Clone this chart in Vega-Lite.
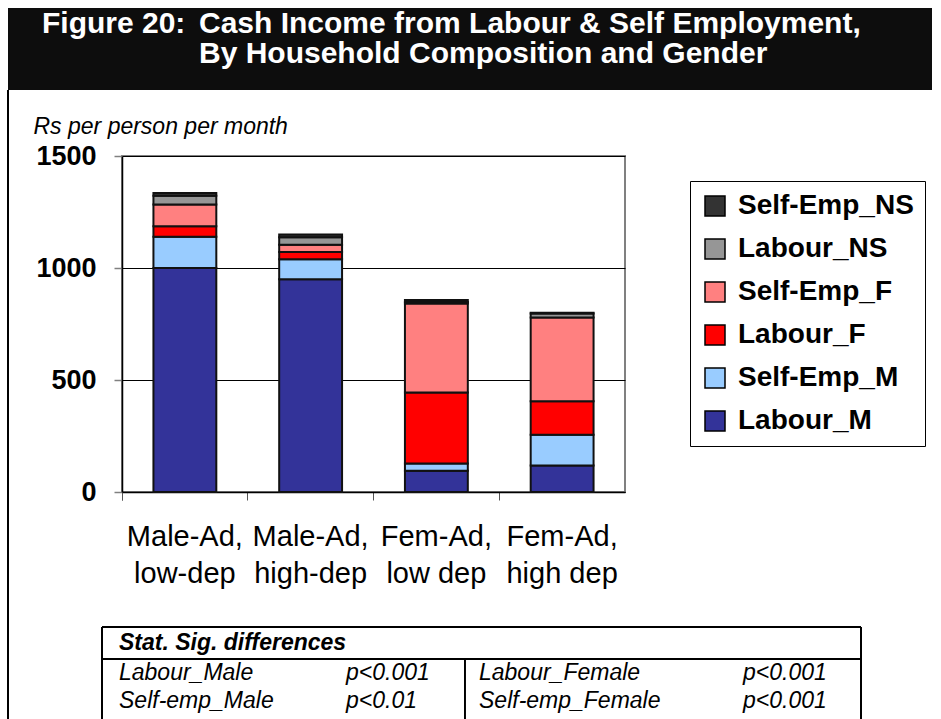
{
  "$schema": "https://vega.github.io/schema/vega-lite/v6.json",
  "padding": {"left": 7, "top": 8, "right": 0, "bottom": 0},
  "background": "#ffffff",
  "config": {"font": "Liberation Sans", "view": {"stroke": null}},
  "datasets": {
    "income": [
      {"group": "Male-Ad, low-dep", "source": "Labour_M", "value": 1000},
      {"group": "Male-Ad, low-dep", "source": "Self-Emp_M", "value": 140},
      {"group": "Male-Ad, low-dep", "source": "Labour_F", "value": 46},
      {"group": "Male-Ad, low-dep", "source": "Self-Emp_F", "value": 97},
      {"group": "Male-Ad, low-dep", "source": "Labour_NS", "value": 40},
      {"group": "Male-Ad, low-dep", "source": "Self-Emp_NS", "value": 12},
      {"group": "Male-Ad, high-dep", "source": "Labour_M", "value": 950},
      {"group": "Male-Ad, high-dep", "source": "Self-Emp_M", "value": 89},
      {"group": "Male-Ad, high-dep", "source": "Labour_F", "value": 32},
      {"group": "Male-Ad, high-dep", "source": "Self-Emp_F", "value": 33},
      {"group": "Male-Ad, high-dep", "source": "Labour_NS", "value": 33},
      {"group": "Male-Ad, high-dep", "source": "Self-Emp_NS", "value": 12},
      {"group": "Fem-Ad, low dep", "source": "Labour_M", "value": 95},
      {"group": "Fem-Ad, low dep", "source": "Self-Emp_M", "value": 32},
      {"group": "Fem-Ad, low dep", "source": "Labour_F", "value": 317},
      {"group": "Fem-Ad, low dep", "source": "Self-Emp_F", "value": 398},
      {"group": "Fem-Ad, low dep", "source": "Labour_NS", "value": 6},
      {"group": "Fem-Ad, low dep", "source": "Self-Emp_NS", "value": 9},
      {"group": "Fem-Ad, high dep", "source": "Labour_M", "value": 118},
      {"group": "Fem-Ad, high dep", "source": "Self-Emp_M", "value": 138},
      {"group": "Fem-Ad, high dep", "source": "Labour_F", "value": 149},
      {"group": "Fem-Ad, high dep", "source": "Self-Emp_F", "value": 374},
      {"group": "Fem-Ad, high dep", "source": "Labour_NS", "value": 18},
      {"group": "Fem-Ad, high dep", "source": "Self-Emp_NS", "value": 3}
    ],
    "series": [
      {"source": "Labour_M", "stackRank": 1},
      {"source": "Self-Emp_M", "stackRank": 2},
      {"source": "Labour_F", "stackRank": 3},
      {"source": "Self-Emp_F", "stackRank": 4},
      {"source": "Labour_NS", "stackRank": 5},
      {"source": "Self-Emp_NS", "stackRank": 6}
    ],
    "titleText": [
      {"col": "num", "line": "1", "text": "Figure 20:"},
      {"col": "body", "line": "1", "text": "Cash Income from Labour & Self Employment,"},
      {"col": "body", "line": "2", "text": "By Household Composition and Gender"}
    ],
    "sig": [
      {"side": "head", "kind": "label", "row": "0", "text": "Stat. Sig. differences"},
      {"side": "left", "kind": "label", "row": "1", "text": "Labour_Male"},
      {"side": "left", "kind": "p", "row": "1", "text": "p<0.001"},
      {"side": "left", "kind": "label", "row": "2", "text": "Self-emp_Male"},
      {"side": "left", "kind": "p", "row": "2", "text": "p<0.01"},
      {"side": "right", "kind": "label", "row": "1", "text": "Labour_Female"},
      {"side": "right", "kind": "p", "row": "1", "text": "p<0.001"},
      {"side": "right", "kind": "label", "row": "2", "text": "Self-emp_Female"},
      {"side": "right", "kind": "p", "row": "2", "text": "p<0.001"}
    ],
    "one": [{}],
    "none": []
  },
  "concat": [
    {"width": 94, "height": 82, "view": {"fill": "#0d0d0d", "stroke": null}, "data": {"name": "none"}, "mark": "point"},
    {"width": 20, "height": 82, "view": {"fill": "#0d0d0d", "stroke": null}, "data": {"name": "none"}, "mark": "point"},
    {
      "width": 810,
      "height": 82,
      "view": {"fill": "#0d0d0d", "stroke": null},
      "data": {"name": "titleText"},
      "mark": {"type": "text", "align": "left", "baseline": "alphabetic", "color": "#ffffff", "fontSize": 30, "fontWeight": "bold"},
      "encoding": {
        "x": {"field": "col", "type": "nominal", "scale": {"type": "point", "domain": ["num", "body"], "range": [-80, 77], "padding": 0}, "axis": null},
        "y": {"field": "line", "type": "nominal", "scale": {"type": "point", "domain": ["1", "2"], "range": [25, 55], "padding": 0}, "axis": null},
        "text": {"field": "text", "type": "nominal"}
      }
    },
    {
      "width": 94, "height": 66, "data": {"name": "one"},
      "mark": {"type": "rule", "color": "#000000", "strokeWidth": 2},
      "encoding": {"x": {"datum": 0, "type": "quantitative", "scale": {"domain": [0, 1]}, "axis": null}}
    },
    {"width": 20, "height": 66, "data": {"name": "none"}, "mark": "point"},
    {"width": 1, "height": 66, "data": {"name": "none"}, "mark": "point"},
    {
      "width": 94, "height": 336, "data": {"name": "one"},
      "mark": {"type": "rule", "color": "#000000", "strokeWidth": 2},
      "encoding": {"x": {"datum": 0, "type": "quantitative", "scale": {"domain": [0, 1]}, "axis": null}}
    },
    {"width": 20, "height": 336, "data": {"name": "none"}, "mark": "point"},
    {
      "width": 503,
      "height": 336,
      "view": {"stroke": "#808080", "strokeWidth": 2},
      "data": {"name": "income"},
      "transform": [
        {"lookup": "source", "from": {"data": {"name": "series"}, "key": "source", "fields": ["stackRank"]}}
      ],
      "mark": {"type": "bar", "stroke": "#111111", "strokeWidth": 2, "width": {"band": 0.5}},
      "encoding": {
        "x": {
          "field": "group", "type": "nominal",
          "sort": ["Male-Ad, low-dep", "Male-Ad, high-dep", "Fem-Ad, low dep", "Fem-Ad, high dep"],
          "scale": {"paddingInner": 0, "paddingOuter": 0},
          "axis": {
            "title": null, "labelAngle": 0, "bandPosition": 0, "tickExtra": true,
            "tickSize": 8, "tickColor": "#555555", "tickWidth": 1,
            "domainColor": "#000000", "domainWidth": 1.5,
            "labelFontSize": 29, "labelColor": "#000000", "labelPadding": 22, "labelLineHeight": 37,
            "labelExpr": "[slice(datum.label, 0, indexof(datum.label, ',') + 1), slice(datum.label, indexof(datum.label, ',') + 2)]"
          }
        },
        "y": {
          "field": "value", "type": "quantitative", "stack": "zero",
          "scale": {"domain": [0, 1500], "nice": false},
          "axis": {
            "values": [0, 500, 1000, 1500], "format": "d",
            "title": "Rs per person per month", "titleAngle": 0, "titleAlign": "left", "titleBaseline": "alphabetic",
            "titleX": -89, "titleY": -23, "titleFontSize": 23, "titleFontStyle": "italic", "titleFontWeight": "normal", "titleColor": "#000000",
            "labelFontSize": 27, "labelFontWeight": "bold", "labelColor": "#000000", "labelPadding": 18,
            "tickSize": 8, "tickColor": "#808080", "tickWidth": 1.5,
            "grid": true, "gridColor": "#000000", "gridWidth": 1,
            "domainColor": "#000000", "domainWidth": 1.5
          }
        },
        "order": {"field": "stackRank", "type": "quantitative", "sort": "ascending"},
        "color": {
          "field": "source", "type": "nominal",
          "scale": {
            "domain": ["Labour_M", "Self-Emp_M", "Labour_F", "Self-Emp_F", "Labour_NS", "Self-Emp_NS"],
            "range": ["#333399", "#99CCFF", "#FF0000", "#FF8080", "#969696", "#333333"]
          },
          "legend": {
            "orient": "none", "legendX": 682, "legendY": 173,
            "values": ["Self-Emp_NS", "Labour_NS", "Self-Emp_F", "Labour_F", "Self-Emp_M", "Labour_M"],
            "title": null, "symbolType": "square", "symbolSize": 400,
            "symbolStrokeColor": "#000000", "symbolStrokeWidth": 1.5, "symbolOpacity": 1,
            "labelFontSize": 28, "labelFontWeight": "bold", "labelColor": "#000000", "labelOffset": 9, "labelLimit": 400,
            "rowPadding": 15, "padding": 11, "strokeColor": "#000000", "fillColor": "#ffffff"
          }
        }
      }
    },
    {
      "width": 94, "height": 135, "data": {"name": "one"},
      "mark": {"type": "rule", "color": "#000000", "strokeWidth": 2},
      "encoding": {"x": {"datum": 0, "type": "quantitative", "scale": {"domain": [0, 1]}, "axis": null}}
    },
    {"width": 20, "height": 135, "data": {"name": "none"}, "mark": "point"},
    {"width": 1, "height": 135, "data": {"name": "none"}, "mark": "point"},
    {
      "width": 94, "height": 32, "data": {"name": "one"},
      "mark": {"type": "rule", "color": "#000000", "strokeWidth": 2},
      "encoding": {"x": {"datum": 0, "type": "quantitative", "scale": {"domain": [0, 1]}, "axis": null}}
    },
    {
      "width": 20, "height": 32, "data": {"name": "one"},
      "layer": [
        {"mark": {"type": "rule", "color": "#000000", "strokeWidth": 2}, "encoding": {"x": {"datum": 0, "type": "quantitative", "scale": {"domain": [0, 1]}, "axis": null}}},
        {"mark": {"type": "rule", "color": "#000000", "strokeWidth": 2}, "encoding": {"y": {"datum": 0, "type": "quantitative", "scale": {"domain": [0, 1]}, "axis": null}}},
        {"mark": {"type": "rule", "color": "#000000", "strokeWidth": 2}, "encoding": {"y": {"datum": 1, "type": "quantitative", "scale": {"domain": [0, 1]}, "axis": null}}}
      ]
    },
    {
      "width": 739, "height": 32,
      "layer": [
        {"data": {"name": "one"}, "mark": {"type": "rule", "color": "#000000", "strokeWidth": 2}, "encoding": {"x": {"datum": 1, "type": "quantitative", "scale": {"domain": [0, 1]}, "axis": null}}},
        {"data": {"name": "one"}, "mark": {"type": "rule", "color": "#000000", "strokeWidth": 2}, "encoding": {"y": {"datum": 0, "type": "quantitative", "scale": {"domain": [0, 1]}, "axis": null}}},
        {"data": {"name": "one"}, "mark": {"type": "rule", "color": "#000000", "strokeWidth": 2}, "encoding": {"y": {"datum": 1, "type": "quantitative", "scale": {"domain": [0, 1]}, "axis": null}}},
        {
          "data": {"name": "sig"},
          "transform": [{"filter": "datum.side === 'head'"}],
          "mark": {"type": "text", "align": "left", "baseline": "middle", "fontSize": 23, "fontStyle": "italic", "fontWeight": "bold", "color": "#000000"},
          "encoding": {
            "x": {"field": "kind", "type": "nominal", "scale": {"type": "point", "domain": ["label", "p"], "range": [-3, 224], "padding": 0}, "axis": null},
            "y": {"field": "row", "type": "nominal", "scale": {"type": "point", "domain": ["0"], "range": [16, 16], "padding": 0}, "axis": null},
            "text": {"field": "text", "type": "nominal"}
          }
        }
      ],
      "resolve": {"scale": {"x": "independent", "y": "independent"}}
    },
    {
      "width": 94, "height": 61, "data": {"name": "one"},
      "mark": {"type": "rule", "color": "#000000", "strokeWidth": 2},
      "encoding": {"x": {"datum": 0, "type": "quantitative", "scale": {"domain": [0, 1]}, "axis": null}}
    },
    {
      "width": 20, "height": 61, "data": {"name": "one"},
      "layer": [
        {"mark": {"type": "rule", "color": "#000000", "strokeWidth": 2}, "encoding": {"x": {"datum": 0, "type": "quantitative", "scale": {"domain": [0, 1]}, "axis": null}}},
        {"mark": {"type": "rule", "color": "#000000", "strokeWidth": 2}, "encoding": {"y": {"datum": 1, "type": "quantitative", "scale": {"domain": [0, 1]}, "axis": null}}}
      ]
    },
    {
      "width": 739, "height": 61,
      "layer": [
        {"data": {"name": "one"}, "mark": {"type": "rule", "color": "#000000", "strokeWidth": 2}, "encoding": {"x": {"datum": 1, "type": "quantitative", "scale": {"domain": [0, 1]}, "axis": null}}},
        {"data": {"name": "one"}, "mark": {"type": "rule", "color": "#000000", "strokeWidth": 2}, "encoding": {"x": {"datum": 0.4641, "type": "quantitative", "scale": {"domain": [0, 1]}, "axis": null}}},
        {"data": {"name": "one"}, "mark": {"type": "rule", "color": "#000000", "strokeWidth": 2}, "encoding": {"y": {"datum": 1, "type": "quantitative", "scale": {"domain": [0, 1]}, "axis": null}}},
        {
          "data": {"name": "sig"},
          "transform": [{"filter": "datum.side === 'left'"}],
          "mark": {"type": "text", "align": "left", "baseline": "middle", "fontSize": 23, "fontStyle": "italic", "color": "#000000"},
          "encoding": {
            "x": {"field": "kind", "type": "nominal", "scale": {"type": "point", "domain": ["label", "p"], "range": [-3, 224], "padding": 0}, "axis": null},
            "y": {"field": "row", "type": "nominal", "scale": {"type": "point", "domain": ["1", "2"], "range": [14, 42], "padding": 0}, "axis": null},
            "text": {"field": "text", "type": "nominal"}
          }
        },
        {
          "data": {"name": "sig"},
          "transform": [{"filter": "datum.side === 'right'"}],
          "mark": {"type": "text", "align": "left", "baseline": "middle", "fontSize": 23, "fontStyle": "italic", "color": "#000000"},
          "encoding": {
            "x": {"field": "kind", "type": "nominal", "scale": {"type": "point", "domain": ["label", "p"], "range": [357, 621], "padding": 0}, "axis": null},
            "y": {"field": "row", "type": "nominal", "scale": {"type": "point", "domain": ["1", "2"], "range": [14, 42], "padding": 0}, "axis": null},
            "text": {"field": "text", "type": "nominal"}
          }
        }
      ],
      "resolve": {"scale": {"x": "independent", "y": "independent"}}
    }
  ],
  "columns": 3,
  "align": "each",
  "bounds": "flush",
  "spacing": 0
}
